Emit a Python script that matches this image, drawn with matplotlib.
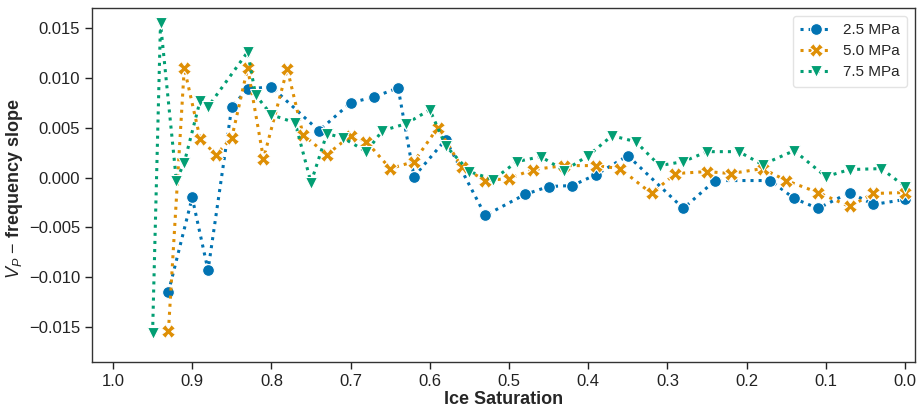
import matplotlib
matplotlib.use("Agg")
import matplotlib.pyplot as plt
import seaborn as sns

sns.set_style("ticks")
plt.rcParams['font.family'] = ['Liberation Sans', 'DejaVu Sans']
plt.rcParams['mathtext.fontset'] = 'custom'
plt.rcParams['mathtext.it'] = 'Liberation Sans:italic'
plt.rcParams['mathtext.rm'] = 'Liberation Sans'
plt.rcParams['axes.unicode_minus'] = True

colors = sns.color_palette("colorblind")

s25 = [0.93, 0.90, 0.88, 0.85, 0.83, 0.80, 0.74, 0.70, 0.67, 0.64, 0.62, 0.58,
       0.53, 0.48, 0.45, 0.42, 0.39, 0.35, 0.28, 0.24, 0.17, 0.14, 0.11, 0.07,
       0.04, 0.00]
v25 = [-0.0115, -0.0020, -0.0093, 0.0071, 0.0089, 0.0091, 0.0047, 0.0075, 0.0081,
       0.0090, 0.0001, 0.0038, -0.0038, -0.0017, -0.0009, -0.0008, 0.0003, 0.0022,
       -0.0031, -0.0003, -0.0003, -0.0021, -0.0031, -0.0015, -0.0027, -0.0022]

s50 = [0.93, 0.91, 0.89, 0.87, 0.85, 0.83, 0.81, 0.78, 0.76, 0.73, 0.70, 0.68,
       0.65, 0.62, 0.59, 0.56, 0.53, 0.50, 0.47, 0.43, 0.39, 0.36, 0.32, 0.29,
       0.25, 0.22, 0.18, 0.15, 0.11, 0.07, 0.04, 0.00]
v50 = [-0.0154, 0.0110, 0.0039, 0.0023, 0.0040, 0.0110, 0.0019, 0.0109, 0.0043,
       0.0023, 0.0042, 0.0036, 0.0009, 0.0016, 0.0050, 0.0011, -0.0003, -0.0001,
       0.0008, 0.0012, 0.0012, 0.0009, -0.0016, 0.0004, 0.0006, 0.0004, 0.0009,
       -0.0003, -0.0015, -0.0029, -0.0016, -0.0015]

s75 = [0.95, 0.94, 0.92, 0.91, 0.89, 0.88, 0.83, 0.82, 0.80, 0.77, 0.75, 0.73,
       0.71, 0.68, 0.66, 0.63, 0.60, 0.58, 0.55, 0.52, 0.49, 0.46, 0.43, 0.40,
       0.37, 0.34, 0.31, 0.28, 0.25, 0.21, 0.18, 0.14, 0.10, 0.07, 0.03, 0.00]
v75 = [-0.0156, 0.0155, -0.0003, 0.0015, 0.0077, 0.0071, 0.0126, 0.0083, 0.0063,
       0.0055, -0.0005, 0.0044, 0.0040, 0.0026, 0.0047, 0.0054, 0.0068, 0.0032,
       0.0006, -0.0002, 0.0016, 0.0021, 0.0007, 0.0022, 0.0042, 0.0036, 0.0012,
       0.0016, 0.0026, 0.0026, 0.0013, 0.0027, 0.0001, 0.0008, 0.0009, -0.0009]

series = [("2.5 MPa", s25, v25, "o", 8.5),
          ("5.0 MPa", s50, v50, "X", 9.5),
          ("7.5 MPa", s75, v75, "v", 8.5)]

fig = plt.figure(figsize=(9.18, 4.08), dpi=100)
ax = fig.add_axes([0.1002, 0.113, 0.8966, 0.867])

for i, (lab, xs, ys, m, ms) in enumerate(series):
    ax.plot(xs, ys, linestyle=':', linewidth=2.2, marker=m, markersize=ms,
            color=colors[i], markeredgecolor='white', markeredgewidth=0.8,
            label=lab)

ax.set_xlim(1.0265, -0.0126)
ax.set_ylim(-0.0185, 0.0170)
ax.set_xticks([1.0, 0.9, 0.8, 0.7, 0.6, 0.5, 0.4, 0.3, 0.2, 0.1, 0.0])
ax.set_yticks([-0.015, -0.010, -0.005, 0.0, 0.005, 0.010, 0.015])
ax.set_yticklabels(['\u22120.015', '\u22120.010', '\u22120.005', '0.000', '0.005', '0.010', '0.015'])
ax.tick_params(labelsize=12, length=5, width=1.0, colors='#222222')
for sp in ax.spines.values():
    sp.set_color('#333333')
    sp.set_linewidth(1.0)

ax.set_xlabel("Ice Saturation", fontsize=13, fontweight='bold', labelpad=2)
ax.set_ylabel(r"$V_P$ $-$ frequency slope", fontsize=13, fontweight='bold')
ax.yaxis.set_label_coords(-0.0814, 0.49)

leg = ax.legend(loc='upper right', fontsize=11, frameon=True, borderpad=0.5,
                handlelength=2.0, labelspacing=0.45)
leg.get_frame().set_edgecolor('#dddddd')

fig.savefig("out.png", dpi=100)
